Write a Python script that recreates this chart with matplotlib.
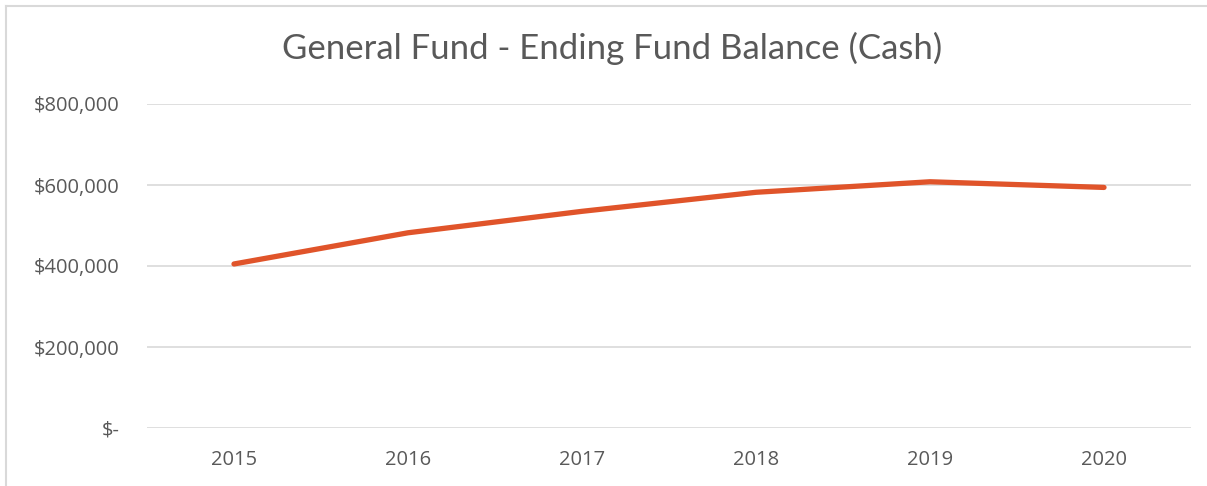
import matplotlib
matplotlib.use('Agg')
import matplotlib.pyplot as plt
from matplotlib.lines import Line2D
from matplotlib.ticker import FuncFormatter

years = ['2015', '2016', '2017', '2018', '2019', '2020']
balance = [405000, 482000, 535000, 582000, 608000, 594000]
y_ticks = [0, 200000, 400000, 600000, 800000]

W, H = 1207, 486
fig = plt.figure(figsize=(W / 100, H / 100), dpi=100)
ax = fig.add_axes([147 / W, 1 - 428 / H, (1191 - 147) / W, (428 - 104) / H])

text_col = '#595959'
grid_col = '#D9D9D9'

ax.plot(range(len(years)), balance, color='#E0542A', linewidth=3.8, solid_capstyle='round', zorder=3)

ax.set_xlim(-0.5, len(years) - 0.5)
ax.set_ylim(0, 800000)
ax.set_yticks(y_ticks)
ax.set_xticks(range(len(years)))
ax.set_xticklabels(years)


def money(v, pos):
    if v == 0:
        return '$-'
    return '${:,.0f}'.format(v)


ax.yaxis.set_major_formatter(FuncFormatter(money))
ax.grid(axis='y', color=grid_col, linewidth=1.2)
ax.set_axisbelow(True)
for s in ax.spines.values():
    s.set_visible(False)
ax.tick_params(axis='both', length=0, labelsize=14.5, labelcolor=text_col)
ax.tick_params(axis='y', pad=19.5)
ax.tick_params(axis='x', pad=16)
for lab in ax.get_xticklabels() + ax.get_yticklabels():
    lab.set_family('Open Sans')

fig.text(612 / W, 1 - 48 / H, 'General Fund - Ending Fund Balance (Cash)', ha='center', va='center',
         fontsize=25, color=text_col, family='Lato')

# chart frame (only top and left edges visible in the crop)
fig.add_artist(Line2D([6 / W, 6 / W], [0, 1 - 6 / H], color=grid_col, linewidth=1.5))
fig.add_artist(Line2D([6 / W, 1], [1 - 6 / H, 1 - 6 / H], color=grid_col, linewidth=1.5))

fig.savefig('out.png', dpi=100)
